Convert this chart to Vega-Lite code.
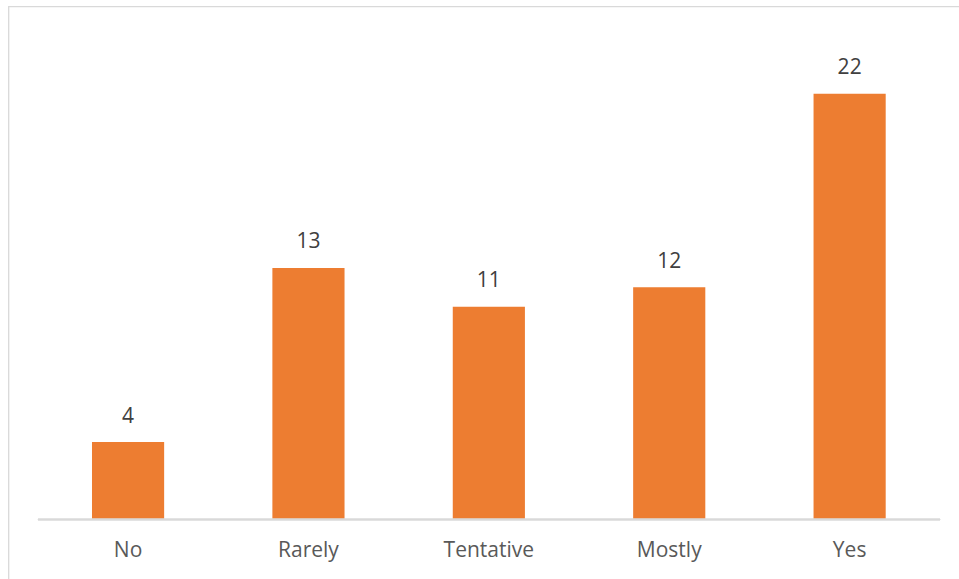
{
  "$schema": "https://vega.github.io/schema/vega-lite/v6.json",
  "autosize": {"type": "none"},
  "padding": {"left": 8.5, "top": 6.5, "right": 0, "bottom": 0},
  "width": 950.5,
  "height": 572.5,
  "background": "white",
  "config": {
    "view": {"stroke": "#D9D9D9", "strokeWidth": 1.3, "strokeDash": [950.5, 1523, 572.5]},
    "font": "Open Sans"
  },
  "data": {
    "values": [
      {"category": "No", "value": 4},
      {"category": "Rarely", "value": 13},
      {"category": "Tentative", "value": 11},
      {"category": "Mostly", "value": 12},
      {"category": "Yes", "value": 22}
    ]
  },
  "encoding": {
    "x": {
      "field": "category",
      "type": "nominal",
      "sort": null,
      "axis": null,
      "scale": {"paddingInner": 0.6, "paddingOuter": 0.4346, "align": 0.5325}
    }
  },
  "layer": [
    {
      "mark": {"type": "bar", "color": "#ED7D31"},
      "encoding": {
        "y": {"field": "value", "type": "quantitative", "axis": null, "scale": {"domain": [-3.075, 26.51], "nice": false, "zero": false}},
        "y2": {"datum": 0}
      }
    },
    {
      "mark": {"type": "rule", "color": "#D9D9D9", "strokeWidth": 1.3},
      "encoding": {
        "x": {"datum": "No", "bandPosition": -0.749},
        "x2": {"datum": "Yes", "bandPosition": 1.754},
        "y": {"datum": 0, "type": "quantitative"}
      }
    },
    {
      "mark": {"type": "text", "baseline": "middle", "dy": -25.5, "fontSize": 21, "color": "#404040"},
      "encoding": {
        "y": {"field": "value", "type": "quantitative"},
        "text": {"field": "value", "type": "quantitative"}
      }
    },
    {
      "mark": {"type": "text", "baseline": "middle", "dy": 31.5, "fontSize": 21, "color": "#595959"},
      "encoding": {
        "y": {"datum": 0, "type": "quantitative"},
        "text": {"field": "category", "type": "nominal"}
      }
    }
  ]
}
